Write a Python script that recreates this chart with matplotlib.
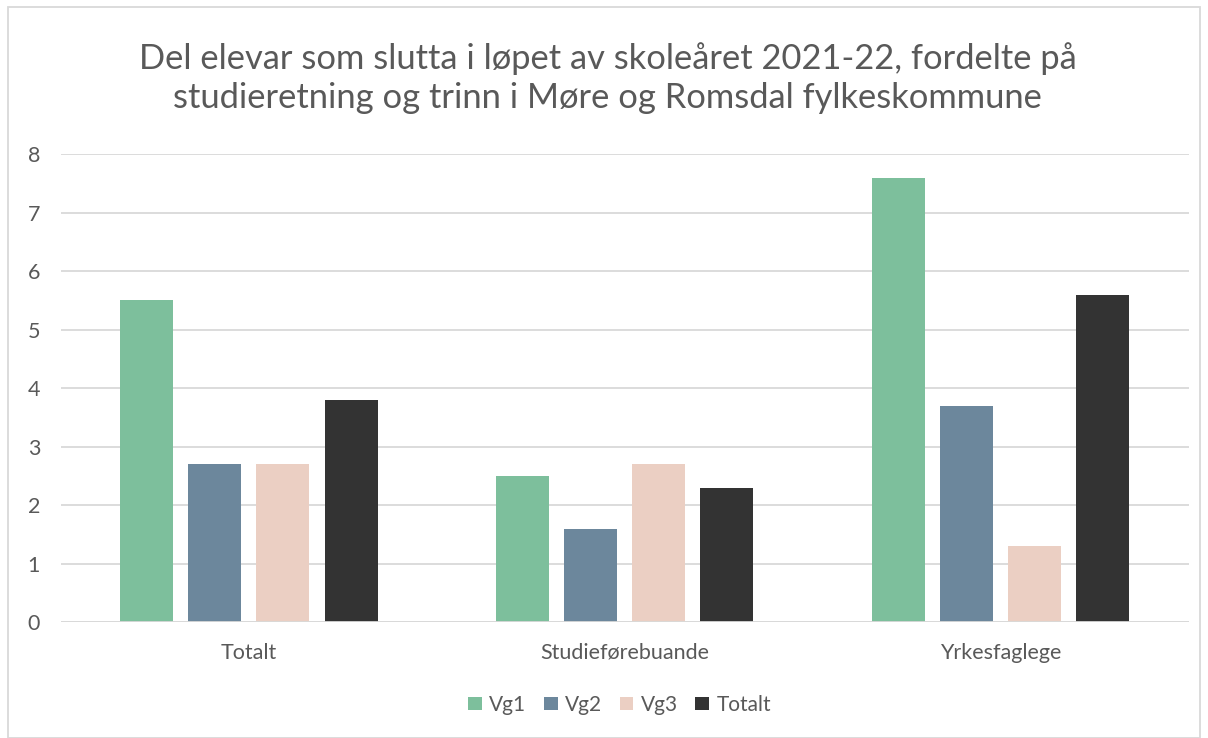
import matplotlib.pyplot as plt
import numpy as np
from matplotlib.patches import Rectangle

# data
categories = ['Totalt', 'Studieførebuande', 'Yrkesfaglege']
series = ['Vg1', 'Vg2', 'Vg3', 'Totalt']
vg1 = [5.5, 2.5, 7.6]
vg2 = [2.7, 1.6, 3.7]
vg3 = [2.7, 2.7, 1.3]
totalt = [3.8, 2.3, 5.6]
colors = ['#7DBF9C', '#6C879C', '#EBCFC3', '#333333']

plt.rcParams['font.family'] = ['Lato', 'DejaVu Sans']
txt = '#595959'

fig = plt.figure(figsize=(12.08, 7.38), dpi=100)
ax = fig.add_axes([0.0505, 0.157, 0.9335, 0.634])

x = np.arange(len(categories))
w = 0.141
step = 0.181
for i, (vals, c, lab) in enumerate(zip([vg1, vg2, vg3, totalt], colors, series)):
    ax.bar(x + (i - 1.5) * step, vals, w, color=c, label=lab, zorder=3)

ax.set_xlim(-0.5, 2.5)
ax.set_ylim(0, 8)
ax.set_yticks(range(0, 9))
ax.set_xticks(x)
ax.set_xticklabels(categories)
ax.tick_params(axis='both', length=0, labelsize=15.5, colors=txt)
ax.tick_params(axis='x', pad=15)
ax.tick_params(axis='y', pad=15)
ax.grid(axis='y', color='#D9D9D9', linewidth=1.3, zorder=0)
for s in ax.spines.values():
    s.set_visible(False)
ax.axhline(0, color='#D9D9D9', linewidth=1.3, zorder=4)

fig.text(0.503, 0.894, 'Del elevar som slutta i løpet av skoleåret 2021-22, fordelte på\n'
         'studieretning og trinn i Møre og Romsdal fylkeskommune',
         fontsize=24.8, color=txt, ha='center', va='center', linespacing=1.26)

leg = fig.legend(loc='center', bbox_to_anchor=(0.513, 0.045), ncol=4, frameon=False,
                 fontsize=15, handlelength=0.65, handleheight=0.65, handletextpad=0.35,
                 columnspacing=0.85, labelcolor=txt)

fig.patches.append(Rectangle((0.007, 0.0), 0.986, 0.99, transform=fig.transFigure,
                             fill=False, edgecolor='#D9D9D9', linewidth=1.3))

fig.savefig('out.png', dpi=100)
